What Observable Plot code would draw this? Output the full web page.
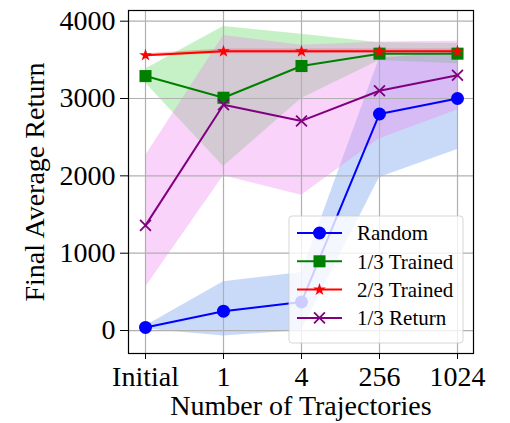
<!DOCTYPE html>
<html>
<head>
<meta charset="utf-8">
<script src="https://cdn.jsdelivr.net/npm/d3@7"></script>
<script src="https://cdn.jsdelivr.net/npm/@observablehq/plot@0.6"></script>
<style>
  body { margin: 0; background: #fff; }
  #chart { width: 510px; height: 423px; }
</style>
</head>
<body>
<div id="chart"></div>
<script>
// Categories on the x axis and tick values on the y axis
const trajectories = ["Initial", "1", "4", "256", "1024"];
const yTicks = [0, 1000, 2000, 3000, 4000];

// Random
const randomMean = [40, 250, 370, 2800, 3000];
const randomLow  = [20, -70, 0, 1980, 2340];
const randomHigh = [60, 630, 750, 3520, 3600];

// 1/3 Trained
const third1Mean = [3290, 3010, 3420, 3580, 3580];
const third1Low  = [3200, 2120, 3000, 3490, 3450];
const third1High = [3380, 3930, 3830, 3720, 3710];

// 2/3 Trained
const third2Mean = [3560, 3610, 3610, 3610, 3610];
const third2Low  = [3540, 3580, 3580, 3585, 3585];
const third2High = [3580, 3640, 3640, 3640, 3640];

// 1/3 Return
const returnMean = [1360, 2920, 2710, 3100, 3300];
const returnLow  = [560, 2000, 1750, 2480, 2850];
const returnHigh = [2260, 3815, 3690, 3730, 3740];

const seriesNames = ["Random", "1/3 Trained", "2/3 Trained", "1/3 Return"];

const series = [
  {name: seriesNames[0], mean: randomMean, low: randomLow, high: randomHigh,
   color: "blue", band: "cornflowerblue", bandOpacity: 0.35, symbol: "circle", r: 6.5},
  {name: seriesNames[1], mean: third1Mean, low: third1Low, high: third1High,
   color: "green", band: "limegreen", bandOpacity: 0.28, symbol: "square", r: 6.8},
  {name: seriesNames[2], mean: third2Mean, low: third2Low, high: third2High,
   color: "red", band: "red", bandOpacity: 0.25, symbol: "star", r: 4.0},
  {name: seriesNames[3], mean: returnMean, low: returnLow, high: returnHigh,
   color: "purple", band: "violet", bandOpacity: 0.35, symbol: "times", r: 5.0}
];

const rows = s => trajectories.map((t, i) => ({traj: t, mean: s.mean[i], low: s.low[i], high: s.high[i]}));

const serif = "'Liberation Serif', 'Times New Roman', 'DejaVu Serif', serif";
const W = 510, H = 423;
const margin = {left: 128, right: 37, top: 10, bottom: 70};

const marks = [];
// shaded spread bands
for (const s of series) {
  marks.push(Plot.areaY(rows(s), {x: "traj", y1: "low", y2: "high", fill: s.band, fillOpacity: s.bandOpacity}));
}
// grid
marks.push(Plot.ruleY(yTicks, {stroke: "#b0b0b0", strokeWidth: 1.2}));
marks.push(Plot.ruleX(trajectories, {x: d => d, stroke: "#b0b0b0", strokeWidth: 1.2}));
// lines with markers
for (const s of series) {
  const data = rows(s);
  marks.push(Plot.line(data, {x: "traj", y: "mean", stroke: s.color, strokeWidth: 2}));
  if (s.symbol === "times") {
    marks.push(Plot.dot(data, {x: "traj", y: "mean", symbol: "times", r: s.r, stroke: s.color, strokeWidth: 1.8, fill: "none"}));
  } else {
    marks.push(Plot.dot(data, {x: "traj", y: "mean", symbol: s.symbol, r: s.r, fill: s.color, stroke: "none"}));
  }
}
marks.push(Plot.frame({stroke: "black", strokeWidth: 1.2}));
// axis titles
marks.push(Plot.text(["Final Average Return"], {frameAnchor: "left", rotate: -90, dx: -93, fontSize: 28, textAnchor: "middle", lineAnchor: "middle", fill: "black"}));
marks.push(Plot.text(["Number of Trajectories"], {frameAnchor: "bottom", dy: 53, fontSize: 28, textAnchor: "middle", lineAnchor: "middle", fill: "black"}));

const svg = Plot.plot({
  width: W,
  height: H,
  marginLeft: margin.left,
  marginRight: margin.right,
  marginTop: margin.top,
  marginBottom: margin.bottom,
  style: {fontFamily: serif, fontSize: "28px", color: "black", background: "white"},
  x: {type: "point", domain: trajectories, padding: 0.19, tickSize: 6, tickPadding: 7, label: null},
  y: {domain: [-297, 4138], ticks: yTicks, tickFormat: d => String(d), tickSize: 8, tickPadding: 5, label: null},
  marks
});

// legend in the lower-right corner of the frame
const frameRight = W - margin.right, frameBottom = H - margin.bottom;
const boxW = 174, boxH = 127, inset = 10;
const bx = frameRight - inset - boxW, by = frameBottom - inset - boxH;
const legend = d3.select(svg).append("g")
  .attr("font-family", serif).attr("font-size", 21).attr("text-anchor", "start");
legend.append("rect")
  .attr("x", bx).attr("y", by).attr("width", boxW).attr("height", boxH)
  .attr("rx", 3).attr("fill", "white").attr("fill-opacity", 0.8)
  .attr("stroke", "#cccccc").attr("stroke-opacity", 0.8);
const symbolTypes = {circle: d3.symbolCircle, square: d3.symbolSquare, star: d3.symbolStar, times: d3.symbolTimes};
series.forEach((s, i) => {
  const cy = by + 17 + i * 28.3;
  const g = legend.append("g");
  g.append("line").attr("x1", bx + 8).attr("x2", bx + 53).attr("y1", cy).attr("y2", cy)
    .attr("stroke", s.color).attr("stroke-width", 2);
  const p = g.append("path")
    .attr("transform", `translate(${bx + 30.5},${cy})`)
    .attr("d", d3.symbol().type(symbolTypes[s.symbol]).size(Math.PI * s.r * s.r)());
  if (s.symbol === "times") p.attr("fill", "none").attr("stroke", s.color).attr("stroke-width", 1.8);
  else p.attr("fill", s.color);
  g.append("text").attr("x", bx + 68).attr("y", cy).attr("dy", "0.35em")
    .attr("text-anchor", "start").attr("fill", "black").text(s.name);
});

document.getElementById("chart").appendChild(svg);
</script>
</body>
</html>
